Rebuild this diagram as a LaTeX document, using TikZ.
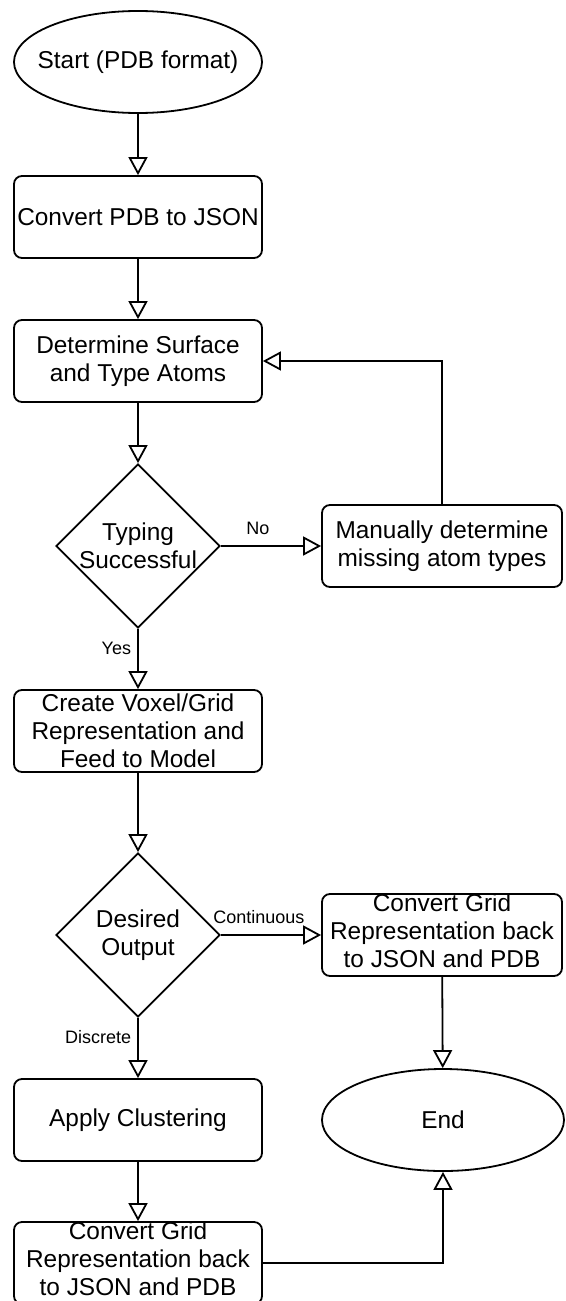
\documentclass[tikz,border=0pt]{standalone}
\usepackage{fontspec}
\setmainfont{Liberation Sans}
\usetikzlibrary{shapes.geometric,arrows.meta}

\begin{document}
\begin{tikzpicture}[x=0.5pt, y=-0.5pt, line width=0.9pt,
  font=\fontsize{12.2}{14}\selectfont,
  terminal/.style={ellipse, draw, minimum width=124pt, minimum height=51pt, inner sep=0pt, label=center:#1},
  procbox/.style={rectangle, rounded corners=4pt, draw, minimum width=124pt, minimum height=41pt, inner sep=0pt, align=center},
  sidebox/.style={procbox, minimum width=120pt},
  gridbox/.style={procbox, label={[align=center, yshift=2pt]center:Convert Grid\\Representation back\\to JSON and PDB}},
  decision/.style={diamond, draw, minimum width=82pt, minimum height=82pt, inner sep=0pt, label={[align=center]center:#1}},
  flow/.style={-{Triangle[open, length=9pt, width=9.5pt]}},
  tag/.style={font=\fontsize{9}{10}\selectfont, inner sep=0pt}]
        \useasboundingbox (0,0) rectangle (566,1301);
        \node[terminal={Start (PDB format)}] (start) at (138, 62) {};
        \node[procbox] (pdbjson) at (138, 217) {Convert PDB to JSON};
        \node[procbox] (surface) at (138, 361) {Determine Surface\\and Type Atoms};
        \node[decision={Typing\\Successful}] (typing) at (138, 546) {};
        \node[sidebox] (manual) at (442, 546) {Manually determine\\missing atom types};
        \node[procbox] (voxel) at (138, 731) {Create Voxel/Grid\\Representation and\\Feed to Model};
        \node[decision={Desired\\Output}] (output) at (138, 935) {};
        \node[gridbox, minimum width=120pt] (gridright) at (442, 935) {};
        \node[procbox] (clustering) at (138, 1120) {Apply Clustering};
        \node[terminal=End, minimum width=121pt] (finish) at (443, 1120) {};
        \node[gridbox] (gridleft) at (138, 1263) {};
        \draw[flow] (start) -- (pdbjson);
        \draw[flow] (pdbjson) -- (surface);
        \draw[flow] (surface) -- (typing);
        \draw[flow] (typing) -- node[tag, pos=0.37, above=5pt] {No} (manual);
        \draw[flow] (manual) |- (surface);
        \draw[flow] (typing) -- node[tag, pos=0.32, left=3pt] {Yes} (voxel);
        \draw[flow] (voxel) -- (output);
        \draw[flow] (output) -- node[tag, pos=0.38, above=5pt] {Continuous} (gridright);
        \draw[flow] (output) -- node[tag, pos=0.32, left=3pt] {Discrete} (clustering);
        \draw[flow] (gridright) -- (finish);
        \draw[flow] (clustering) -- (gridleft);
        \draw[flow] (gridleft) -| (finish);
\end{tikzpicture}
\end{document}
